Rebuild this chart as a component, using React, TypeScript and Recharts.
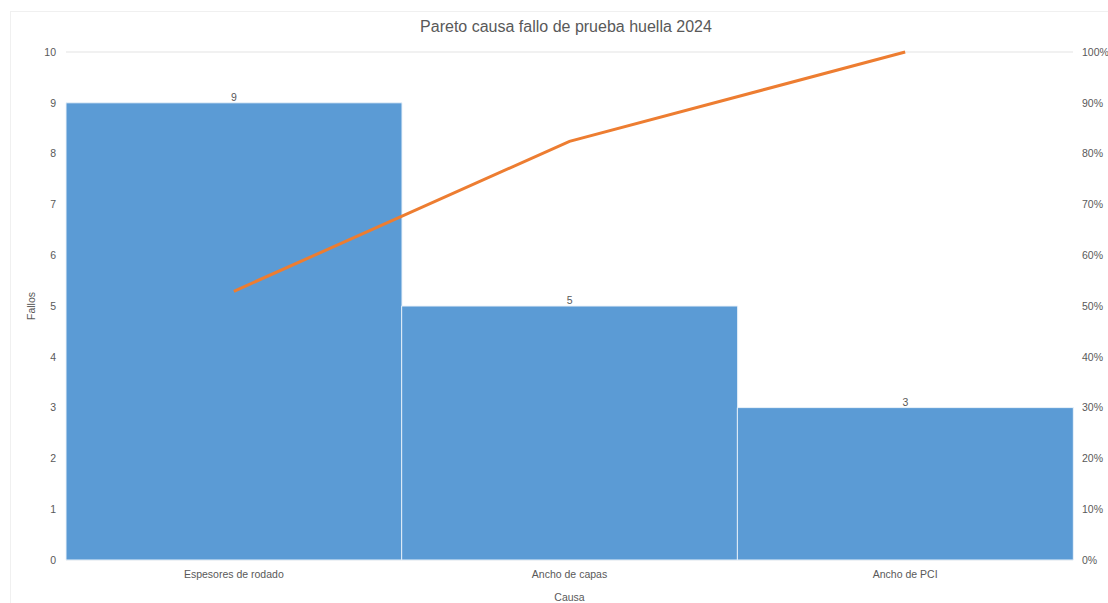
import React from "react";
import {
  ComposedChart,
  Bar,
  Line,
  XAxis,
  YAxis,
  CartesianGrid,
  LabelList,
  Label,
} from "recharts";

const categories = ["Espesores de rodado", "Ancho de capas", "Ancho de PCI"];
const fallos = [9, 5, 3];
const acumulado = [0.529, 0.824, 1.0];
const leftTicks = [0, 1, 2, 3, 4, 5, 6, 7, 8, 9, 10];
const rightTicks = [0, 0.1, 0.2, 0.3, 0.4, 0.5, 0.6, 0.7, 0.8, 0.9, 1.0];
const title = "Pareto causa fallo de prueba huella 2024";

const data = categories.map((c, i) => ({ causa: c, fallos: fallos[i], acum: acumulado[i] }));

const FONT = "'Liberation Sans', 'DejaVu Sans', sans-serif";
const tickStyle = { fill: "#595959", fontSize: 10.5, fontFamily: FONT };

export default function App() {
  return (
    <div style={{ position: "absolute", left: 0, top: 0, width: 1108, height: 603, background: "#fff" }}>
      <div
        style={{
          position: "absolute",
          left: 10,
          top: 11,
          width: 1100,
          height: 600,
          border: "1px solid #F0F0F0",
          boxSizing: "border-box",
        }}
      />
      <div
        style={{
          position: "absolute",
          left: 0,
          top: 18,
          width: 1132,
          textAlign: "center",
          fontFamily: FONT,
          fontSize: 16,
          color: "#595959",
        }}
      >
        {title}
      </div>
      <div style={{ position: "absolute", left: 0, top: 0 }}>
        <ComposedChart
          width={1108}
          height={603}
          data={data}
          margin={{ top: 52, right: 0, left: 26, bottom: 0 }}
          barCategoryGap={0}
          barGap={0}
        >
          <CartesianGrid vertical={false} stroke="#E3E3E3" />
          <XAxis
            dataKey="causa"
            height={43}
            tickLine={false}
            axisLine={false}
            tick={tickStyle}
            tickSize={0}
            tickMargin={11}
            interval={0}
          >
            <Label value="Causa" position="insideBottom" offset={2} style={{ ...tickStyle }} />
          </XAxis>
          <YAxis
            yAxisId="left"
            width={40}
            domain={[0, 10]}
            ticks={leftTicks}
            tickLine={false}
            axisLine={false}
            tick={tickStyle}
            tickSize={0}
            tickMargin={10}
          >
            <Label
              value="Fallos"
              angle={-90}
              position="insideLeft"
              offset={5}
              style={{ ...tickStyle, textAnchor: "middle" }}
            />
          </YAxis>
          <YAxis
            yAxisId="right"
            orientation="right"
            width={35}
            domain={[0, 1]}
            ticks={rightTicks}
            tickFormatter={(v: number) => `${Math.round(v * 100)}%`}
            tickLine={false}
            axisLine={false}
            tick={tickStyle}
            tickSize={0}
            tickMargin={9}
          />
          <Bar
            yAxisId="left"
            dataKey="fallos"
            fill="#5B9BD5"
            stroke="#EAF2FA"
            strokeWidth={1}
            isAnimationActive={false}
          >
            <LabelList dataKey="fallos" position="top" offset={2} style={tickStyle} />
          </Bar>
          <Line
            yAxisId="right"
            dataKey="acum"
            stroke="#ED7D31"
            strokeWidth={3}
            dot={false}
            isAnimationActive={false}
          />
        </ComposedChart>
      </div>
    </div>
  );
}
